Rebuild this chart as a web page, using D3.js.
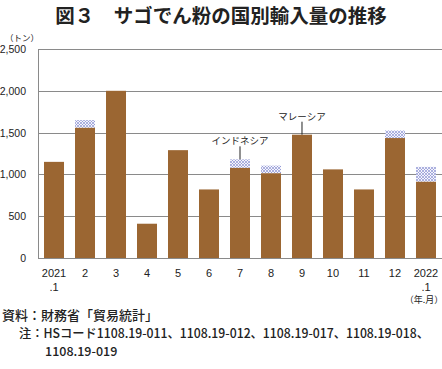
<!doctype html>
<html>
<head>
<meta charset="utf-8">
<script src="https://d3js.org/d3.v7.min.js"></script>
<style>
  body { margin: 0; background: #fff; }
  text { font-family: "Liberation Sans", "Noto Sans CJK JP", sans-serif; }
  .jp { font-family: "Noto Sans CJK JP", sans-serif; }
</style>
</head>
<body>
<svg width="442" height="369"></svg>
<script>
// data
var months = ["2021\n.1", "2", "3", "4", "5", "6", "7", "8", "9", "10", "11", "12", "2022\n.1"];
var mainVals  = [1150, 1560, 2000, 410, 1290, 820, 1080, 1015, 1475, 1060, 820, 1435, 915];
var otherVals = [0, 90, 0, 0, 0, 0, 100, 90, 0, 0, 0, 90, 175];
var yTicks = [0, 500, 1000, 1500, 2000, 2500];
var notes = [{ i: 6, text: "インドネシア" }, { i: 8, text: "マレーシア" }];

var svg = d3.select("svg"),
    plotL = 38, plotR = 442, plotT = 49, plotB = 258,
    brown = "#9b6632", grid = "#8a8a8a";

// hatch pattern for the second series
var pat = svg.append("defs").append("pattern")
    .attr("id", "hatch").attr("patternUnits", "userSpaceOnUse")
    .attr("width", 3).attr("height", 3);
pat.append("rect").attr("width", 3).attr("height", 3).attr("fill", "#f4f4fc");
pat.append("path").attr("d", "M0,0 L3,3 M3,0 L0,3")
    .attr("stroke", "#8d93d2").attr("stroke-width", 0.7);

// title
svg.append("text")
   .attr("class", "jp")
   .attr("x", 221).attr("y", 23)
   .attr("text-anchor", "middle")
   .attr("font-size", "19.5px").attr("font-weight", "bold")
   .attr("fill", "#222")
   .text("図３　サゴでん粉の国別輸入量の推移");

var x = d3.scaleBand().domain(months).range([plotL, plotR])
          .paddingInner(0.355).paddingOuter(0.194);
var y = d3.scaleLinear().domain([0, 2500]).range([plotB, plotT]);

// gridlines
svg.append("g").selectAll("line").data(yTicks).enter().append("line")
   .attr("x1", plotL).attr("x2", plotR)
   .attr("y1", function(d) { return Math.round(y(d)) + 0.5; })
   .attr("y2", function(d) { return Math.round(y(d)) + 0.5; })
   .attr("stroke", grid).attr("stroke-width", 1);

// left axis line
svg.append("line")
   .attr("x1", plotL + 0.5).attr("x2", plotL + 0.5)
   .attr("y1", plotT).attr("y2", plotB + 1)
   .attr("stroke", grid);

// y labels
svg.append("g").selectAll("text").data(yTicks).enter().append("text")
   .attr("x", 26).attr("y", function(d) { return y(d) + 4; })
   .attr("text-anchor", "end").attr("font-size", "10.5px").attr("fill", "#222")
   .text(function(d) { return d3.format(",")(d); });

svg.append("text").attr("class", "jp")
   .attr("x", 22).attr("y", 41).attr("text-anchor", "middle")
   .attr("font-size", "8.5px").attr("fill", "#222").text("（トン）");

// bars
svg.append("g").selectAll("rect").data(months).enter().append("rect")
   .attr("x", function(d) { return x(d); })
   .attr("width", x.bandwidth())
   .attr("y", function(d, i) { return y(mainVals[i]); })
   .attr("height", function(d, i) { return y(0) - y(mainVals[i]); })
   .attr("fill", brown);

svg.append("g").selectAll("rect").data(months).enter().append("rect")
   .attr("x", function(d) { return x(d); })
   .attr("width", x.bandwidth())
   .attr("y", function(d, i) { return y(mainVals[i] + otherVals[i]); })
   .attr("height", function(d, i) { return y(mainVals[i]) - y(mainVals[i] + otherVals[i]); })
   .attr("fill", "url(#hatch)");

// x labels
var xl = svg.append("g").selectAll("text").data(months).enter().append("text")
   .attr("text-anchor", "middle").attr("font-size", "11px").attr("fill", "#222");
xl.each(function(d) {
    var parts = d.split("\n"), t = d3.select(this),
        cx = x(d) + x.bandwidth() / 2;
    parts.forEach(function(p, k) {
        t.append("tspan").attr("x", cx).attr("y", 277 + k * 14).text(p);
    });
});
svg.append("text").attr("class", "jp")
   .attr("x", 424).attr("y", 303).attr("text-anchor", "middle")
   .attr("font-size", "9px").attr("fill", "#222").text("（年.月）");

// callouts
notes.forEach(function(n) {
    var cx = x(months[n.i]) + x.bandwidth() / 2,
        yTop = y(mainVals[n.i] + otherVals[n.i]);
    svg.append("line").attr("x1", cx).attr("x2", cx)
       .attr("y1", yTop - 13).attr("y2", yTop)
       .attr("stroke", "#222").attr("stroke-width", 1);
    svg.append("text").attr("class", "jp")
       .attr("x", cx).attr("y", yTop - 15).attr("text-anchor", "middle")
       .attr("font-size", "9.5px").attr("fill", "#222").text(n.text);
});

// source and notes
svg.append("text").attr("class", "jp")
   .attr("x", 2).attr("y", 320).attr("font-size", "13px").attr("font-weight", "500")
   .attr("fill", "#222").text("資料：財務省「貿易統計」");
svg.append("text").attr("class", "jp")
   .attr("x", 19).attr("y", 338).attr("font-size", "12.5px").attr("font-weight", "500")
   .attr("fill", "#222").attr("textLength", 410).attr("lengthAdjust", "spacingAndGlyphs")
   .text("注：HSコード1108.19-011、1108.19-012、1108.19-017、1108.19-018、");
svg.append("text").attr("class", "jp")
   .attr("x", 45).attr("y", 356).attr("font-size", "12.5px").attr("font-weight", "500")
   .attr("fill", "#222").text("1108.19-019");
</script>
</body>
</html>
